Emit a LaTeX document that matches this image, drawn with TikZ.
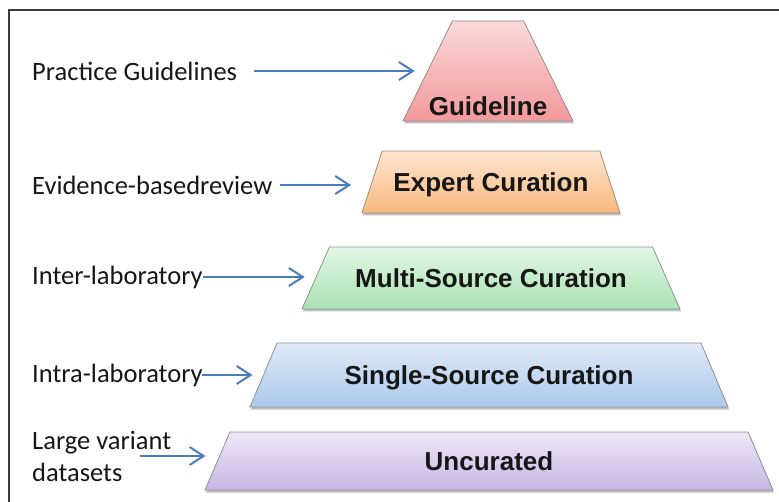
\documentclass[tikz,border=0pt]{standalone}
\usepackage{fontspec}
\setmainfont{Carlito}
\newfontfamily\tierfont{Liberation Sans}
\usepackage{tikz}
\usetikzlibrary{arrows.meta,shapes.geometric,shadows}
\definecolor{frameline}{HTML}{3C3C3C}
\definecolor{feedblue}{HTML}{4A7EBB}
\definecolor{ink}{HTML}{161616}
\definecolor{guideTop}{HTML}{FBD9D9}
\definecolor{guideBot}{HTML}{F2999B}
\definecolor{expertTop}{HTML}{FDE6D0}
\definecolor{expertBot}{HTML}{F9B87E}
\definecolor{multiTop}{HTML}{E2F6E4}
\definecolor{multiBot}{HTML}{A9E2B3}
\definecolor{singleTop}{HTML}{DFEAF7}
\definecolor{singleBot}{HTML}{ABC9EA}
\definecolor{uncurTop}{HTML}{EEE8F7}
\definecolor{uncurBot}{HTML}{C7B6E3}
\tikzset{
	pyramid/.style={
		x=1pt, y=-1pt,
		frame/.style={draw=frameline, line width=2.5pt},
		feed/.style={draw=feedblue, line width=2pt,
			-{Straight Barb[length=14pt,width=18pt,line width=2pt]}},
		lbl/.style={anchor=west, inner sep=0pt, align=left, text=ink,
			font=\fontsize{26.5}{32}\selectfont},
		tier text/.style={inner sep=0pt, text=ink,
			font=\tierfont\bfseries\fontsize{26}{30}\selectfont}
		},
	% long side, room above and below the baseline, colour base
	tier/.style n args={4}{
		trapezium, trapezium stretches body=true, outer sep=0pt,
		inner xsep=2pt, inner ysep=0pt,
		minimum width=#1, text height=#2, text depth=#3,
		draw=gray!75!#4Bot, line width=0.8pt,
		top color=#4Top, bottom color=#4Bot,
		drop shadow={shadow xshift=1pt, shadow yshift=-2.5pt, opacity=.25, fill=black},
		text=ink, font=\tierfont\bfseries\fontsize{26}{30}\selectfont}
}

\begin{document}
\begin{tikzpicture}[pyramid]
	\useasboundingbox (0,0) rectangle (779,502);
	\draw[frame] (779,10) -- (9,10) -- (9,502);

	% the five tiers, top to bottom
	\node[tier={170pt}{50pt}{50pt}{guide}, trapezium angle=63.7] (guide) at (488,71) {};
	\node[tier text] (guidetxt) at ([yshift=15pt]guide.south) {Guideline};
	\node[tier={258pt}{40.3pt}{21.7pt}{expert}, trapezium angle=72] (expert) at (491,182) {Expert Curation};
	\node[tier={378pt}{40.3pt}{21.7pt}{multi}, trapezium angle=66.1] (multi) at (491,278) {Multi-Source Curation};
	\node[tier={478pt}{41.3pt}{22.7pt}{single}, trapezium angle=67.1] (single) at (489,375) {Single-Source Curation};
	\node[tier={568pt}{38.3pt}{19.7pt}{uncur}, trapezium angle=66.7] (uncur) at (489,461) {Uncurated};

	% what feeds each tier
	\node[lbl] (prac) at (32,71) {Practice Guidelines};
	\node[lbl] (evid) at (32,185) {Evidence-basedreview};
	\node[lbl] (inter) at (32,277) {Inter-laboratory};
	\node[lbl] (intra) at (32,375) {Intra-laboratory};
	\node[lbl] (large) at (32,456) {Large variant\\datasets};

	\draw[feed] ([xshift=17pt]prac.east) -- ([xshift=-13pt]guide.west |- prac.east);
	\draw[feed] ([xshift=8pt]evid.east) -- ([xshift=-21pt]expert.west |- evid.east);
	\draw[feed] (inter.east) -- ([xshift=-11pt]multi.west |- inter.east);
	\draw[feed] ([xshift=-1pt]intra.east) -- ([xshift=-11pt]single.west |- intra.east);
	\draw[feed] ([xshift=108pt]large.west) -- ([xshift=-12pt]uncur.west |- large.west);
\end{tikzpicture}
\end{document}
